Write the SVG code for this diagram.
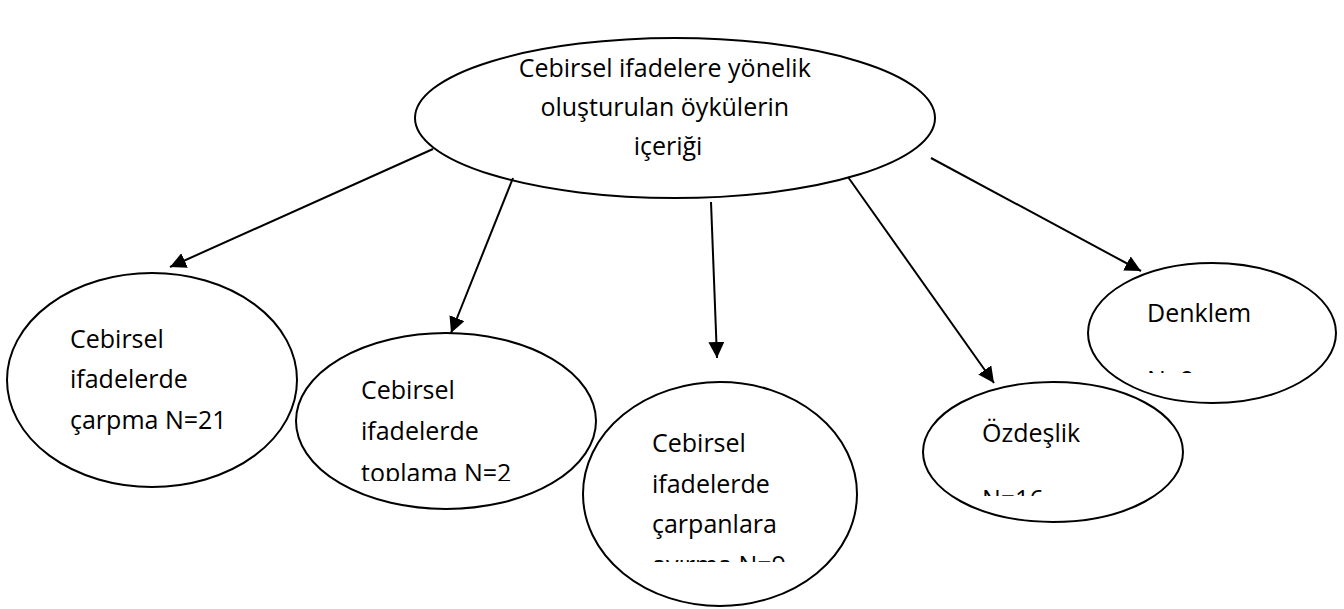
<svg xmlns="http://www.w3.org/2000/svg" width="1344" height="609" viewBox="0 0 1344 609">
  <style>
    .shape { fill: #ffffff; stroke: #000000; stroke-width: 2; }
    .label { font-family: "Open Sans", "Liberation Sans", sans-serif; font-size: 25px; fill: #000000; }
    .edge { stroke: #000000; stroke-width: 2; fill: none; marker-end: url(#arrow); }
  </style>
  <defs>
    <marker id="arrow" markerUnits="userSpaceOnUse" markerWidth="17" markerHeight="16" refX="16" refY="8" orient="auto">
      <path d="M0,0 L16,8 L0,16 z" fill="#000000"/>
    </marker>
    <clipPath id="clip-n1"><rect x="0" y="260" width="300" height="190"/></clipPath>
    <clipPath id="clip-n2"><rect x="290" y="320" width="310" height="161"/></clipPath>
    <clipPath id="clip-n3"><rect x="580" y="370" width="280" height="192"/></clipPath>
    <clipPath id="clip-n4"><rect x="920" y="370" width="270" height="126"/></clipPath>
    <clipPath id="clip-n5"><rect x="1080" y="260" width="264" height="113"/></clipPath>
  </defs>

  <g id="node-root">
    <ellipse class="shape" cx="675" cy="118" rx="260" ry="80"/>
    <text class="label" text-anchor="middle">
      <tspan x="668" y="77">Cebirsel ifadelere yönelik</tspan>
      <tspan x="668" y="116">oluşturulan öykülerin</tspan>
      <tspan x="668" y="155">içeriği</tspan>
    </text>
  </g>

  <g id="node-carpma">
    <ellipse class="shape" cx="152" cy="380" rx="145" ry="107"/>
    <text class="label" clip-path="url(#clip-n1)">
      <tspan x="70" y="348">Cebirsel</tspan>
      <tspan x="70" y="388">ifadelerde</tspan>
      <tspan x="70" y="429">çarpma N=21</tspan>
    </text>
  </g>

  <g id="node-toplama">
    <ellipse class="shape" cx="446" cy="421" rx="150" ry="88"/>
    <text class="label" clip-path="url(#clip-n2)">
      <tspan x="361" y="399">Cebirsel</tspan>
      <tspan x="361" y="440">ifadelerde</tspan>
      <tspan x="361" y="482">toplama N=2</tspan>
    </text>
  </g>

  <g id="node-carpanlara">
    <ellipse class="shape" cx="720" cy="494" rx="137" ry="112"/>
    <text class="label" clip-path="url(#clip-n3)">
      <tspan x="652" y="452">Cebirsel</tspan>
      <tspan x="652" y="493">ifadelerde</tspan>
      <tspan x="652" y="533">çarpanlara</tspan>
      <tspan x="652" y="574">ayırma N=9</tspan>
    </text>
  </g>

  <g id="node-ozdeslik">
    <ellipse class="shape" cx="1053" cy="452" rx="130" ry="70"/>
    <text class="label" clip-path="url(#clip-n4)">
      <tspan x="982" y="442">Özdeşlik</tspan>
      <tspan x="982" y="508">N=16</tspan>
    </text>
  </g>

  <g id="node-denklem">
    <ellipse class="shape" cx="1212" cy="333" rx="124" ry="70"/>
    <text class="label" clip-path="url(#clip-n5)">
      <tspan x="1147" y="322">Denklem</tspan>
      <tspan x="1147" y="389">N=9</tspan>
    </text>
  </g>

  <g id="connectors">
    <line class="edge" x1="433" y1="149" x2="170" y2="267"/>
    <line class="edge" x1="513" y1="178" x2="451" y2="333"/>
    <line class="edge" x1="711" y1="202" x2="717" y2="358"/>
    <line class="edge" x1="848" y1="177" x2="994" y2="383"/>
    <line class="edge" x1="931" y1="158" x2="1141" y2="271"/>
  </g>
</svg>
